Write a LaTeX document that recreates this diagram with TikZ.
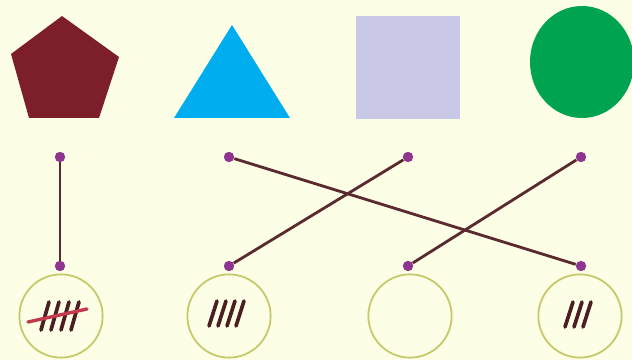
\documentclass[tikz,border=0pt]{standalone}
\usepackage{tikz}
\usetikzlibrary{positioning}
\usepackage{xcolor}

\definecolor{bgcream}{HTML}{FCFEE6}
\definecolor{penta}{HTML}{7D1F2A}
\definecolor{trisky}{HTML}{00AEEF}
\definecolor{lilac}{HTML}{C9C8E6}
\definecolor{leaf}{HTML}{00A450}
\definecolor{plum}{HTML}{8E3590}
\definecolor{linkbrown}{HTML}{5B2A2E}
\definecolor{olive}{HTML}{C6CA6C}
\definecolor{tallyink}{HTML}{4A1E22}
\definecolor{crossred}{HTML}{C23A4C}

\begin{document}
\begin{tikzpicture}[
      x={(0.025cm,0)}, y={(0,-0.025cm)},
      dot/.style={circle,fill=plum,inner sep=0pt,minimum size=0.26cm},
      link/.style={draw=linkbrown,line width=2pt},
      ring/.style={circle,draw=olive,line width=1.3pt,inner sep=0pt,
                   minimum size=2.08cm},
      tally/.style={draw=tallyink,line width=2.6pt,line cap=round},
      cross/.style={draw=crossred,line width=2.4pt,line cap=round},
    ]

    % background
    \fill[bgcream] (0,0) rectangle (632,360);
    \useasboundingbox (0,0) rectangle (632,360);

    % shapes
    \fill[penta] (62,16) -- (119,57) -- (99,118) -- (29,118) -- (11,54) -- cycle;
    \fill[trisky] (232,25) -- (290,118) -- (174,118) -- cycle;
    \fill[lilac] (356,16) rectangle (460,119);
    \fill[leaf] (582,62) ellipse [x radius=52, y radius=56];

    % dots
    \node[dot] (t1) at (60,157) {};
    \node[dot] (t2) at (229,157) {};
    \node[dot] (t3) at (408,157) {};
    \node[dot] (t4) at (581,157) {};
    \node[dot] (b1) at (60,266) {};
    \node[dot] (b2) at (229,266) {};
    \node[dot] (b3) at (408,266) {};
    \node[dot] (b4) at (581,266) {};

    % matching lines
    \draw[link] (t1) -- (b1);
    \draw[link] (t2) -- (b4);
    \draw[link] (t3) -- (b2);
    \draw[link] (t4) -- (b3);

    % count circles
    \node[ring] (c1) at (61,316) {};
    \node[ring] (c2) at (229,316) {};
    \node[ring] (c3) at (410,316) {};
    \node[ring] (c4) at (580,316) {};

    % tallies
    \foreach \i in {0,...,3}
      \draw[tally] ([shift={(-20+10*\i,14)}]c1.center) -- ++(8,-28);
    \draw[cross] ([shift={(-33,6)}]c1.center) -- ([shift={(26,-7)}]c1.center);
    \foreach \i in {0,...,3}
      \draw[tally] ([shift={(-20+9*\i,10)}]c2.center) -- ++(8,-25);
    \foreach \i in {0,...,2}
      \draw[tally] ([shift={(-15+9*\i,11)}]c4.center) -- ++(8,-25);

  \end{tikzpicture}
\end{document}
